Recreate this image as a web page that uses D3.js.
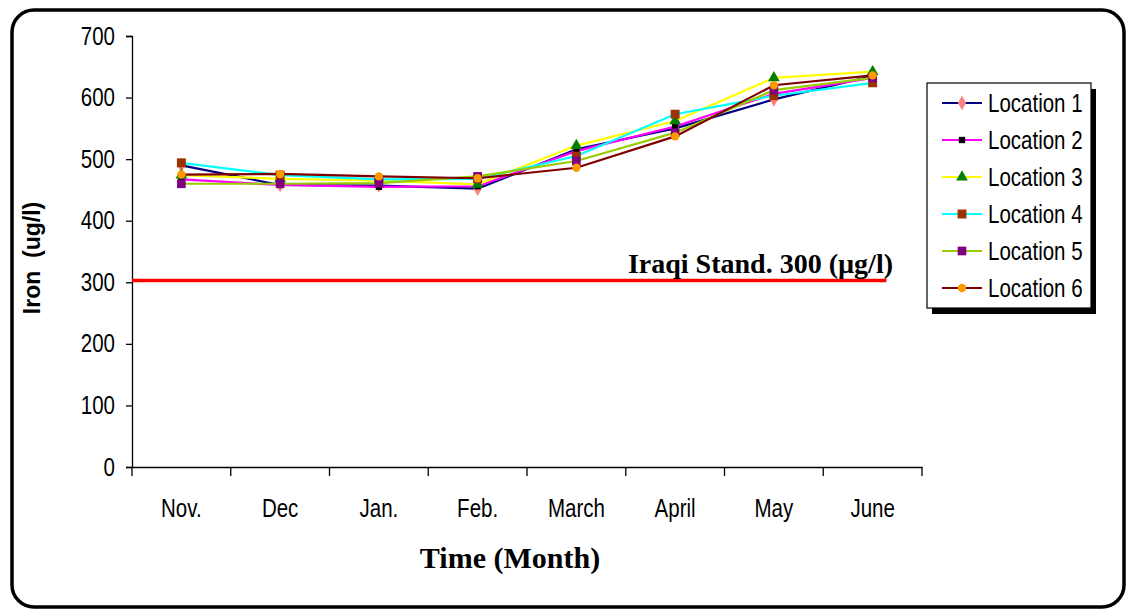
<!DOCTYPE html>
<html>
<head>
<meta charset="utf-8">
<script src="https://cdn.jsdelivr.net/npm/d3@7"></script>
<style>
  body { margin: 0; background: #fff; }
  .tick text { font-family: "Liberation Sans", Arial, sans-serif; font-size: 25px; fill: #000; }
</style>
</head>
<body>
<svg id="chart" width="1126" height="610"></svg>
<script>
// data
var months = ['Nov.', 'Dec', 'Jan.', 'Feb.', 'March', 'April', 'May', 'June'];
var location1 = [490, 458, 457, 452, 516, 550, 597, 635];
var location2 = [467, 458, 455, 456, 513, 553, 606, 632];
var location3 = [474, 468, 465, 459, 522, 562, 632, 642];
var location4 = [494, 474, 467, 468, 505, 573, 603, 624];
var location5 = [460, 460, 461, 472, 497, 543, 612, 632];
var location6 = [475, 476, 472, 469, 486, 537, 620, 636];
var seriesNames = ['Location 1', 'Location 2', 'Location 3', 'Location 4', 'Location 5', 'Location 6'];
var yTicks = [0, 100, 200, 300, 400, 500, 600, 700];
var standardValue = 303;
var standardLabel = 'Iraqi Stand. 300 (\u00b5g/l)';

var lineColors = ['#000080', '#ff00ff', '#ffff00', '#00ffff', '#99cc00', '#800000'];
var markerColors = ['#ff8080', '#000000', '#008000', '#993300', '#800080', '#ff9900'];
var markerShapes = [d3.symbolDiamond, d3.symbolSquare, d3.symbolTriangle, d3.symbolSquare, d3.symbolSquare, d3.symbolCircle];
var markerSizes = [60, 40, 60, 80, 75, 55];

var series = [location1, location2, location3, location4, location5, location6].map(function (vals, i) {
  return { name: seriesNames[i], values: vals.map(function (v, j) { return { month: months[j], value: v }; }) };
});

var svg = d3.select('#chart');

// squeeze Arial-like text to look like the narrow face of the original
function narrow(sel) {
  sel.each(function () {
    var w = this.getComputedTextLength();
    d3.select(this)
      .attr('textLength', w * 0.82)
      .attr('lengthAdjust', 'spacingAndGlyphs');
  });
}

// outer frame -------------------- //
svg.append('rect')
  .attr('x', 12).attr('y', 10)
  .attr('width', 1112).attr('height', 597)
  .attr('rx', 22).attr('ry', 22)
  .attr('fill', '#fff')
  .attr('stroke', '#000')
  .attr('stroke-width', 3.5);

var plot = { left: 132, right: 922, top: 36, bottom: 467 };

var x = d3.scaleBand()
  .domain(months)
  .range([plot.left, plot.right]);

var y = d3.scaleLinear()
  .domain([0, 700])
  .range([plot.bottom, plot.top]);

var cx = function (m) { return x(m) + x.bandwidth() / 2; };

// axes -------------------- //
svg.append('g')
  .attr('transform', 'translate(' + plot.left + ',0)')
  .call(d3.axisLeft(y).tickValues(yTicks).tickSize(6).tickPadding(11).tickFormat(d3.format('d')))
  .call(function (g) {
    g.select('.domain').attr('stroke', '#000').attr('stroke-width', 1.3);
    g.selectAll('.tick line').attr('stroke', '#000').attr('stroke-width', 1.3);
    g.selectAll('.tick text').call(narrow);
  });

var xAxis = svg.append('g')
  .attr('transform', 'translate(0,' + plot.bottom + ')')
  .call(d3.axisBottom(x).tickSize(0).tickPadding(32))
  .call(function (g) {
    g.select('.domain').attr('stroke', '#000').attr('stroke-width', 1.3);
    g.selectAll('.tick text').attr('dy', '0.71em').call(narrow);
  });

// tick marks between categories
xAxis.selectAll('line.sep')
  .data(d3.range(months.length + 1))
  .enter()
  .append('line')
  .attr('class', 'sep')
  .attr('x1', function (i) { return plot.left + i * x.step(); })
  .attr('x2', function (i) { return plot.left + i * x.step(); })
  .attr('y1', 0).attr('y2', 9)
  .attr('stroke', '#000')
  .attr('stroke-width', 1.3);

// axis titles
svg.append('text')
  .attr('transform', 'translate(40,258) rotate(-90)')
  .attr('text-anchor', 'middle')
  .attr('xml:space', 'preserve')
  .style('font-family', '"Liberation Sans", Arial, sans-serif')
  .style('font-weight', 'bold')
  .style('font-size', '23px')
  .text('Iron  (ug/l)');

svg.append('text')
  .attr('x', 510).attr('y', 568)
  .attr('text-anchor', 'middle')
  .style('font-family', '"Liberation Serif", "Times New Roman", serif')
  .style('font-weight', 'bold')
  .style('font-size', '30px')
  .text('Time (Month)');

// standard line -------------------- //
svg.append('line')
  .attr('x1', plot.left)
  .attr('x2', plot.left + (plot.right - plot.left) * 0.955)
  .attr('y1', y(standardValue))
  .attr('y2', y(standardValue))
  .attr('stroke', '#ff0000')
  .attr('stroke-width', 3.5);

svg.append('text')
  .attr('x', 893).attr('y', 273)
  .attr('text-anchor', 'end')
  .style('font-family', '"Liberation Serif", "Times New Roman", serif')
  .style('font-weight', 'bold')
  .style('font-size', '28px')
  .text(standardLabel);

// series -------------------- //
var line = d3.line()
  .x(function (d) { return cx(d.month); })
  .y(function (d) { return y(d.value); });

var groups = svg.selectAll('g.series')
  .data(series)
  .enter()
  .append('g')
  .attr('class', 'series');

groups.append('path')
  .attr('d', function (d) { return line(d.values); })
  .attr('fill', 'none')
  .attr('stroke', function (d, i) { return lineColors[i]; })
  .attr('stroke-width', 2.2);

groups.each(function (d, i) {
  d3.select(this).selectAll('path.marker')
    .data(d.values)
    .enter()
    .append('path')
    .attr('class', 'marker')
    .attr('transform', function (p) { return 'translate(' + cx(p.month) + ',' + y(p.value) + ')'; })
    .attr('d', d3.symbol().type(markerShapes[i]).size(markerSizes[i]))
    .attr('fill', markerColors[i]);
});

// legend -------------------- //
var legend = svg.append('g').attr('transform', 'translate(927,83)');

legend.append('rect')
  .attr('x', 5).attr('y', 6)
  .attr('width', 164).attr('height', 225)
  .attr('fill', '#000');

legend.append('rect')
  .attr('x', 0).attr('y', 0)
  .attr('width', 164).attr('height', 225)
  .attr('fill', '#fff')
  .attr('stroke', '#000')
  .attr('stroke-width', 1.2);

var items = legend.selectAll('g.item')
  .data(series)
  .enter()
  .append('g')
  .attr('class', 'item')
  .attr('transform', function (d, i) { return 'translate(0,' + (20 + i * 37) + ')'; });

items.append('line')
  .attr('x1', 15).attr('x2', 55)
  .attr('stroke', function (d, i) { return lineColors[i]; })
  .attr('stroke-width', 2.2);

items.append('path')
  .attr('transform', 'translate(35,0)')
  .attr('d', function (d, i) { return d3.symbol().type(markerShapes[i]).size(markerSizes[i])(); })
  .attr('fill', function (d, i) { return markerColors[i]; });

items.append('text')
  .attr('x', 61)
  .attr('dy', '0.35em')
  .style('font-family', '"Liberation Sans", Arial, sans-serif')
  .style('font-size', '25px')
  .text(function (d) { return d.name; })
  .call(narrow);
</script>
</body>
</html>
